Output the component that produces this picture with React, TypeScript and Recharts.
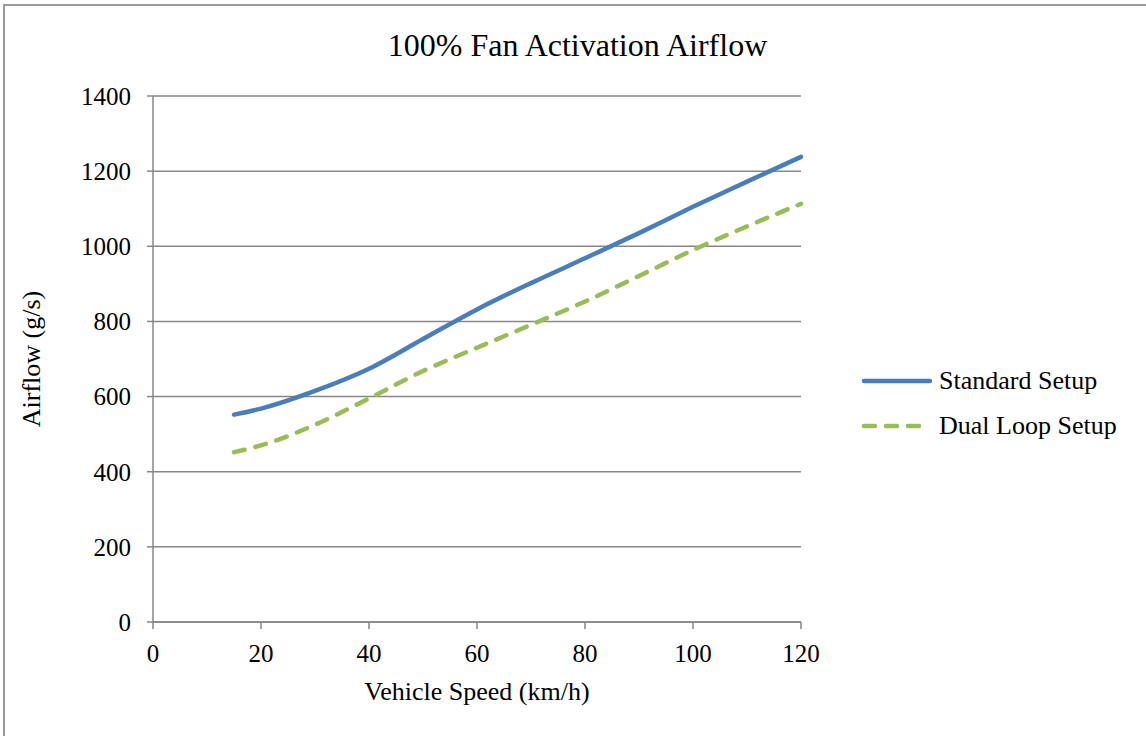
import { LineChart, Line, XAxis, YAxis, CartesianGrid, Legend } from "recharts";

const speeds = [15, 20, 30, 40, 50, 60, 70, 80, 90, 100, 110, 120];
const standardSetup = [552, 568, 615, 674, 753, 832, 902, 968, 1035, 1105, 1172, 1238];
const dualLoopSetup = [452, 470, 525, 595, 668, 730, 791, 853, 921, 990, 1053, 1113];
const xTicks = [0, 20, 40, 60, 80, 100, 120];
const yTicks = [0, 200, 400, 600, 800, 1000, 1200, 1400];
const seriesOrder = ["standard", "dual"];

const data = speeds.map((s, i) => ({
  speed: s,
  standard: standardSetup[i],
  dual: dualLoopSetup[i],
}));

const GRID = "#878787";
const BLUE = "#4a7ebb";
const GREEN = "#9bbb59";
const FONT = '"Liberation Serif", "Times New Roman", serif';

function LegendBox({ payload }: any) {
  const items = [...(payload || [])].sort(
    (a: any, b: any) => seriesOrder.indexOf(a.dataKey) - seriesOrder.indexOf(b.dataKey)
  );
  return (
    <svg width={290} height={90}>
      {items.map((p: any, i: number) => {
        const y = 22 + i * 45;
        const dashed = p.dataKey === "dual";
        return (
          <g key={p.value}>
            <line
              x1={9}
              x2={75}
              y1={y}
              y2={y}
              stroke={p.color}
              strokeWidth={4.5}
              strokeLinecap="round"
              strokeDasharray={dashed ? "11 11" : undefined}
            />
            <text x={84} y={y + 8} fontSize={26} fill="#000" fontFamily={FONT}>
              {p.value}
            </text>
          </g>
        );
      })}
    </svg>
  );
}

export default function App() {
  return (
    <div
      style={{
        position: "absolute",
        left: 0,
        top: 0,
        width: 1146,
        height: 736,
        background: "#fff",
        fontFamily: FONT,
        overflow: "hidden",
      }}
    >
      <div
        style={{
          position: "absolute",
          left: 3,
          top: 4,
          width: 1300,
          height: 900,
          borderTop: "2px solid #9a9a9a",
          borderLeft: "2px solid #9a9a9a",
        }}
      />
      <div
        style={{
          position: "absolute",
          left: 0,
          top: 30,
          width: 1155,
          textAlign: "center",
          fontSize: 32,
          lineHeight: "31px",
          color: "#000",
        }}
      >
        100% Fan Activation Airflow
      </div>
      <LineChart
        width={1146}
        height={736}
        data={data}
        margin={{ top: 96, right: 345, bottom: 0, left: 0 }}
      >
        <CartesianGrid vertical={false} stroke={GRID} strokeWidth={1.5} />
        <XAxis
          dataKey="speed"
          type="number"
          domain={[0, 120]}
          ticks={xTicks}
          height={114}
          stroke={GRID}
          strokeWidth={1.5}
          tickSize={7}
          tickMargin={15}
          tick={{ fill: "#000", fontSize: 25 }}
          label={{
            value: "Vehicle Speed (km/h)",
            position: "insideBottom",
            offset: 36,
            fill: "#000",
            fontSize: 26,
          }}
        />
        <YAxis
          type="number"
          domain={[0, 1400]}
          ticks={yTicks}
          width={153}
          stroke={GRID}
          strokeWidth={1.5}
          tickSize={6}
          tickMargin={16}
          tick={{ fill: "#000", fontSize: 25 }}
          label={{
            value: "Airflow (g/s)",
            angle: -90,
            position: "insideLeft",
            offset: 31,
            textAnchor: "middle",
            fill: "#000",
            fontSize: 26,
          }}
        />
        <Legend
          layout="vertical"
          align="center"
          verticalAlign="middle"
          wrapperStyle={{ left: 855, top: 359, width: 290, height: 90 }}
          content={<LegendBox />}
        />
        <Line
          type="monotone"
          dataKey="standard"
          name="Standard Setup"
          stroke={BLUE}
          strokeWidth={4.5}
          strokeLinecap="round"
          dot={false}
          activeDot={false}
          isAnimationActive={false}
        />
        <Line
          type="monotone"
          dataKey="dual"
          name="Dual Loop Setup"
          stroke={GREEN}
          strokeWidth={4.5}
          strokeLinecap="round"
          strokeDasharray="11 11"
          dot={false}
          activeDot={false}
          isAnimationActive={false}
        />
      </LineChart>
    </div>
  );
}
